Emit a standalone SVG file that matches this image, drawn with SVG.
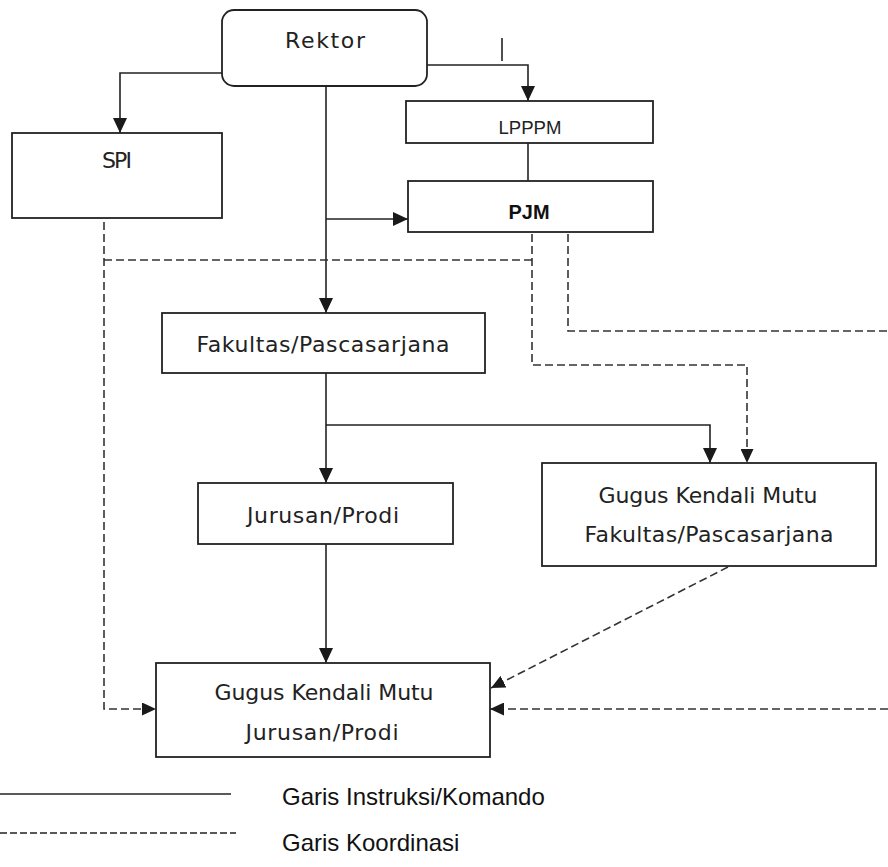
<svg xmlns="http://www.w3.org/2000/svg" width="888" height="867" viewBox="0 0 888 867">
  <style>
    .box { fill: #ffffff; stroke: #222222; stroke-width: 1.8; }
    .lbl { font-family: "DejaVu Sans", Verdana, sans-serif; font-size: 22px; fill: #222222; text-anchor: middle; }
    .lbl-sm { font-family: "Liberation Sans", Arial, sans-serif; font-size: 19px; fill: #222222; text-anchor: middle; }
    .lbl-b { font-family: "Liberation Sans", Arial, sans-serif; font-size: 20px; font-weight: bold; fill: #111111; text-anchor: middle; }
    .cmd { fill: none; stroke: #222222; stroke-width: 1.6; }
    .crd { fill: none; stroke: #333333; stroke-width: 1.6; stroke-dasharray: 8 4; }
    .legend { font-family: "Liberation Sans", Arial, sans-serif; font-size: 24px; fill: #111111; }
  </style>
  <defs>
    <marker id="arrow" markerUnits="userSpaceOnUse" markerWidth="15" markerHeight="14" refX="15" refY="7" orient="auto">
      <path d="M0,0 L15,7 L0,14 z" fill="#1a1a1a"/>
    </marker>
    <marker id="arrow-d" markerUnits="userSpaceOnUse" markerWidth="14" markerHeight="13" refX="14" refY="6.5" orient="auto">
      <path d="M0,0 L14,6.5 L0,13 z" fill="#1a1a1a"/>
    </marker>
  </defs>

  <rect width="888" height="867" fill="#ffffff"/>

  <!-- connectors -->
  <g id="connectors">
    <!-- command lines -->
    <path class="cmd" d="M222,73 H120 V133" marker-end="url(#arrow)"/>
    <path class="cmd" d="M427,65 H528 V101" marker-end="url(#arrow)"/>
    <path class="cmd" d="M502,38 V61"/>
    <path class="cmd" d="M528,143 V181"/>
    <path class="cmd" d="M326,86 V313" marker-end="url(#arrow)"/>
    <path class="cmd" d="M326,219 H408" marker-end="url(#arrow)"/>
    <path class="cmd" d="M326,373 V483" marker-end="url(#arrow)"/>
    <path class="cmd" d="M326,425 H710 V463" marker-end="url(#arrow)"/>
    <path class="cmd" d="M326,544 V663" marker-end="url(#arrow)"/>
    <!-- coordination lines -->
    <path class="crd" d="M104,222 V709 H156" marker-end="url(#arrow-d)"/>
    <path class="crd" d="M104,260 H532"/>
    <path class="crd" d="M532,234 V365 H747 V463" marker-end="url(#arrow-d)"/>
    <path class="crd" d="M568,234 V331 H888"/>
    <path class="crd" d="M728,567 L491,688" marker-end="url(#arrow-d)"/>
    <path class="crd" d="M888,709 H490" marker-end="url(#arrow-d)"/>
  </g>

  <!-- nodes -->
  <g id="rektor">
    <rect class="box" x="222" y="10" width="205" height="76" rx="12" ry="12"/>
    <text class="lbl" x="325" y="48" font-size="24" textLength="80" lengthAdjust="spacing">Rektor</text>
  </g>
  <g id="spi">
    <rect class="box" x="12" y="133" width="210" height="85"/>
    <text class="lbl" x="117" y="168" font-size="19" textLength="30" lengthAdjust="spacing">SPI</text>
  </g>
  <g id="lpppm">
    <rect class="box" x="406" y="101" width="247" height="42"/>
    <text class="lbl-sm" x="530" y="134" textLength="63" lengthAdjust="spacingAndGlyphs">LPPPM</text>
  </g>
  <g id="pjm">
    <rect class="box" x="408" y="181" width="245" height="51"/>
    <text class="lbl-b" x="529" y="219" textLength="41" lengthAdjust="spacingAndGlyphs">PJM</text>
  </g>
  <g id="fakultas">
    <rect class="box" x="162" y="313" width="323" height="60"/>
    <text class="lbl" x="323" y="352" textLength="253" lengthAdjust="spacing">Fakultas/Pascasarjana</text>
  </g>
  <g id="jurusan">
    <rect class="box" x="198" y="483" width="255" height="61"/>
    <text class="lbl" x="323" y="523" textLength="152" lengthAdjust="spacing">Jurusan/Prodi</text>
  </g>
  <g id="gkm-fakultas">
    <rect class="box" x="542" y="463" width="334" height="103"/>
    <text class="lbl" x="708" y="503" textLength="219" lengthAdjust="spacing">Gugus Kendali Mutu</text>
    <text class="lbl" x="709" y="542" textLength="249" lengthAdjust="spacing">Fakultas/Pascasarjana</text>
  </g>
  <g id="gkm-jurusan">
    <rect class="box" x="156" y="663" width="334" height="94"/>
    <text class="lbl" x="324" y="700" textLength="219" lengthAdjust="spacing">Gugus Kendali Mutu</text>
    <text class="lbl" x="322" y="740" textLength="153" lengthAdjust="spacing">Jurusan/Prodi</text>
  </g>

  <!-- legend -->
  <g id="legend">
    <line x1="0" y1="794" x2="231" y2="794" stroke="#222222" stroke-width="1.4"/>
    <line x1="0" y1="833" x2="236" y2="833" stroke="#222222" stroke-width="1.4" stroke-dasharray="7 3"/>
    <text class="legend" x="282" y="805">Garis Instruksi/Komando</text>
    <text class="legend" x="282" y="851">Garis Koordinasi</text>
  </g>
</svg>
